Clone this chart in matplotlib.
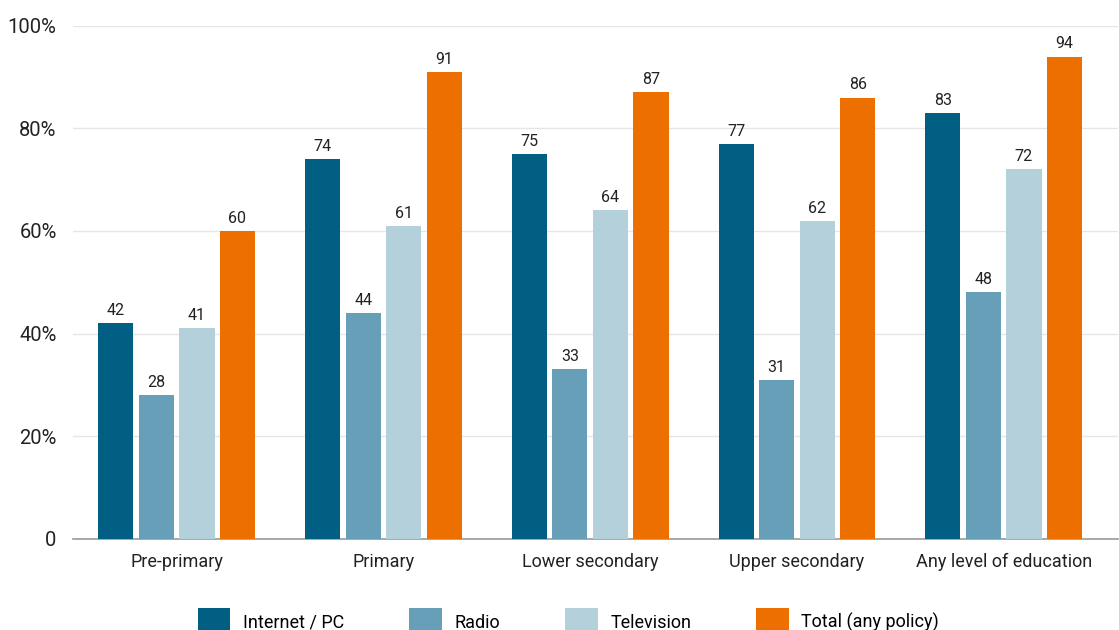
import matplotlib
matplotlib.use("Agg")
import matplotlib.pyplot as plt
import numpy as np

categories = ["Pre-primary", "Primary", "Lower secondary", "Upper secondary", "Any level of education"]
series_names = ["Internet / PC", "Radio", "Television", "Total (any policy)"]
internet = [42, 74, 75, 77, 83]
radio = [28, 44, 33, 31, 48]
television = [41, 61, 64, 62, 72]
total = [60, 91, 87, 86, 94]
yticks = [0, 20, 40, 60, 80, 100]
ytick_labels = ["0", "20%", "40%", "60%", "80%", "100%"]

colors = ["#005F83", "#679FB8", "#B4D0DB", "#EC6F00"]
series = [internet, radio, television, total]

plt.rcParams['font.family'] = ['Roboto', 'DejaVu Sans']

fig = plt.figure(figsize=(11.19, 6.30), dpi=100)
ax = fig.add_axes([0.0655, 0.145, 0.934, 0.814])

x = np.arange(len(categories))
width = 0.17
step = 0.196
offsets = (np.arange(4) - 1.5) * step
for i, (vals, col, name) in enumerate(zip(series, colors, series_names)):
    bars = ax.bar(x + offsets[i], vals, width=width, color=col, label=name, zorder=3)
    for b, v in zip(bars, vals):
        ax.text(b.get_x() + b.get_width() / 2, v + 1.0, str(v), ha='center', va='bottom',
                fontsize=11.5, color='#222222', zorder=4)

ax.set_xlim(-0.50, 4.555)
ax.set_ylim(0, 100)
ax.set_yticks(yticks)
ax.set_yticklabels(ytick_labels, fontsize=14.5, color='#222222')
ax.set_xticks(x)
ax.set_xticklabels(categories, fontsize=13, color='#222222')
ax.tick_params(axis='both', length=0)
ax.tick_params(axis='x', pad=10)
ax.tick_params(axis='y', pad=12)
ax.yaxis.grid(True, color='#E6E6E6', linewidth=1, zorder=0)
for s in ['top', 'right', 'left']:
    ax.spines[s].set_visible(False)
ax.spines['bottom'].set_color('#999999')
ax.spines['bottom'].set_linewidth(1.2)

fig.legend(loc='lower center', bbox_to_anchor=(0.508, -0.035), ncol=4, frameon=False,
           fontsize=13, handlelength=1.8, handleheight=2.0, columnspacing=3.6, handletextpad=0.7)

fig.savefig("out.png", dpi=100)
